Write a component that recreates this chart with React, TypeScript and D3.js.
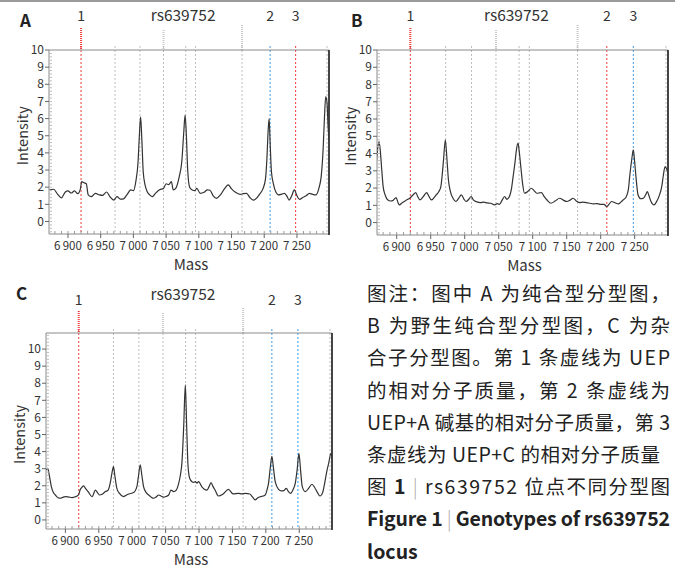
import React from "react"
import * as d3 from "d3"

// spectra, [mass, intensity]
const spectrumA: [number, number][] = [
  [6872, 1.84], [6878, 1.88], [6884, 1.6], [6890, 1.38], [6896, 1.72], [6900, 1.78], [6905, 1.66],
  [6910, 1.78], [6915, 1.62], [6919, 1.9], [6921, 2.32], [6925, 2.25], [6928, 2.2], [6931, 1.55],
  [6936, 1.45], [6942, 1.64], [6948, 1.55], [6953, 1.52], [6959, 1.72], [6964, 1.45], [6970, 1.25],
  [6975, 1.45], [6980, 1.3], [6985, 1.32], [6990, 1.55], [6996, 1.84], [7000, 1.8], [7004, 2.4],
  [7007, 3.4], [7009, 4.9], [7011, 6.1], [7013, 4.7], [7015, 2.9], [7018, 2.1], [7021, 1.75],
  [7025, 1.55], [7029, 1.45], [7034, 1.65], [7040, 1.85], [7046, 1.93], [7050, 2.2], [7054, 2.15],
  [7058, 2.32], [7061, 1.84], [7065, 1.95], [7070, 2.6], [7074, 3.5], [7077, 5.2], [7079, 6.2],
  [7081, 5.0], [7083, 3.0], [7086, 2.0], [7090, 1.84], [7094, 1.8], [7097, 1.93], [7102, 1.64],
  [7108, 1.7], [7113, 1.84], [7117, 1.82], [7122, 1.5], [7127, 1.35], [7133, 1.55], [7140, 1.95],
  [7145, 2.13], [7150, 1.9], [7156, 1.7], [7163, 1.58], [7168, 1.62], [7173, 1.64], [7178, 1.4],
  [7183, 1.25], [7188, 1.35], [7193, 1.6], [7198, 1.9], [7202, 2.5], [7204, 3.6], [7206, 5.3],
  [7207.5, 6.0], [7209, 4.6], [7211, 2.9], [7214, 2.2], [7218, 1.7], [7222, 1.55], [7227, 1.6],
  [7231, 1.64], [7235, 1.45], [7238, 1.25], [7242, 1.5], [7246, 1.84], [7250, 1.5], [7254, 1.29],
  [7259, 1.4], [7264, 1.5], [7269, 1.64], [7274, 1.58], [7279, 1.55], [7284, 2.0], [7287, 2.6],
  [7290, 4.2], [7292, 6.0], [7294, 7.28], [7296, 6.9], [7297.5, 5.6], [7299, 4.75],
]

const spectrumB: [number, number][] = [
  [6870, 3.44], [6872, 4.3], [6874, 4.69], [6876, 4.1], [6878, 3.05], [6880, 2.1], [6883, 1.6],
  [6887, 1.31], [6891, 1.25], [6895, 1.3], [6899, 1.45], [6902, 1.15], [6904, 1.02], [6908, 1.15],
  [6911, 1.22], [6915, 1.32], [6919, 1.41], [6924, 1.6], [6928, 1.74], [6931, 1.5], [6934, 1.31],
  [6939, 1.5], [6944, 1.74], [6947, 1.55], [6951, 1.31], [6955, 1.45], [6958, 1.6], [6962, 1.8],
  [6965, 2.1], [6967, 2.8], [6969, 3.7], [6971.5, 4.8], [6974, 3.6], [6976, 2.5], [6979, 1.8],
  [6983, 1.4], [6987, 1.22], [6991, 1.4], [6995, 1.6], [6999, 1.35], [7002, 1.22], [7006, 1.35],
  [7009.5, 1.51], [7013, 1.3], [7018, 1.2], [7023, 1.16], [7028, 1.18], [7033, 1.14], [7038, 1.12],
  [7044, 1.02], [7048, 1.1], [7051, 1.05], [7055, 1.3], [7058.7, 1.51], [7062, 1.35], [7065, 1.45],
  [7068.5, 1.89], [7071, 2.6], [7074, 3.5], [7076, 4.2], [7078.4, 4.6], [7080.5, 4.0], [7083, 3.05],
  [7085, 2.3], [7088, 1.7], [7091, 1.75], [7094, 1.85], [7098, 1.99], [7102, 1.85], [7106, 1.7],
  [7110, 1.72], [7113, 1.74], [7117, 1.5], [7121, 1.31], [7127, 1.12], [7133, 1.25], [7139.8, 1.41],
  [7145, 1.3], [7150, 1.22], [7155, 1.3], [7159.5, 1.41], [7164, 1.25], [7169, 1.16], [7174, 1.18],
  [7179, 1.16], [7184, 1.12], [7189, 1.08], [7194, 1.1], [7199, 1.06], [7205, 1.05], [7209, 0.93],
  [7212, 1.05], [7216, 1.22], [7221, 1.15], [7226, 1.08], [7230, 1.2], [7233, 1.31], [7237, 1.45],
  [7240.6, 1.89], [7243, 2.8], [7245.5, 3.6], [7248, 4.21], [7250, 3.5], [7252, 2.6], [7255, 1.6],
  [7259, 1.38], [7262.8, 1.41], [7266, 1.6], [7268.7, 1.8], [7271, 1.55], [7274, 1.22], [7278.5, 1.02],
  [7282, 1.2], [7286, 1.55], [7289.8, 2.08], [7292, 2.7], [7294.7, 3.24], [7297, 3.1], [7299, 2.86],
]

const spectrumC: [number, number][] = [
  [6871, 2.92], [6873.5, 3.02], [6876, 2.6], [6879, 1.95], [6882, 1.6], [6885, 1.46], [6889, 1.3],
  [6892.5, 1.27], [6896, 1.32], [6900, 1.36], [6905, 1.34], [6910, 1.31], [6914, 1.34], [6917.5, 1.4],
  [6920, 1.5], [6922, 1.75], [6925, 1.92], [6927.4, 1.99], [6930, 1.85], [6934, 1.66], [6940, 1.36],
  [6945, 1.75], [6948, 1.6], [6951, 1.46], [6955, 1.5], [6960, 1.66], [6964, 1.75], [6967, 2.14],
  [6969.5, 2.7], [6972, 3.12], [6974, 2.6], [6977, 1.85], [6981, 1.55], [6987, 1.36], [6991, 1.45],
  [6995, 1.52], [7002, 1.6], [7007, 1.95], [7009.5, 2.6], [7012, 3.22], [7014.5, 2.6], [7017, 1.95],
  [7021, 1.6], [7024.7, 1.46], [7028, 1.35], [7032, 1.27], [7036, 1.35], [7039.6, 1.46], [7043, 1.4],
  [7047, 1.33], [7051, 1.38], [7054.6, 1.46], [7058, 1.75], [7062, 1.66], [7066, 1.75], [7069, 2.05],
  [7072, 2.6], [7074.5, 3.4], [7077, 5.4], [7079.5, 7.9], [7081.5, 5.5], [7083.5, 3.2], [7086, 2.44],
  [7089.5, 2.24], [7092, 2.2], [7094.5, 2.24], [7097, 2.15], [7099.4, 2.24], [7104, 1.95], [7108, 1.8],
  [7112, 1.75], [7115, 1.95], [7118, 2.18], [7121, 1.95], [7124, 1.75], [7129, 1.4], [7136, 1.52],
  [7144, 1.79], [7151, 1.52], [7159, 1.56], [7164, 1.53], [7169, 1.56], [7176, 1.52], [7180, 1.35],
  [7184, 1.17], [7188, 1.3], [7191.5, 1.36], [7196, 1.4], [7199, 1.46], [7202, 1.8], [7204, 2.14],
  [7206.5, 3.0], [7209, 3.72], [7211.5, 3.0], [7214, 2.24], [7219, 1.79], [7223, 1.7], [7227, 1.72],
  [7230.6, 1.85], [7234, 1.65], [7237, 1.56], [7241, 1.8], [7244, 2.14], [7247, 3.0], [7249.5, 3.9],
  [7252, 2.9], [7254.5, 1.95], [7259, 1.66], [7264, 1.85], [7269, 2.09], [7273, 1.9], [7276.5, 1.66],
  [7281, 1.4], [7285, 1.6], [7288, 2.14], [7291, 2.8], [7294, 3.31], [7297.4, 3.9], [7299, 3.6],
]

// dashed reference masses; the numbered ones are UEP, UEP+A / UEP+C
const refMasses = [6920, 6972, 7010, 7046, 7080, 7095, 7166, 7209, 7248, 7296]
const numbered: Record<number, string> = { 6920: "1", 7209: "2", 7248: "3" }
const markerMasses = [7046, 7166]
const colorsA: Record<number, string> = { 6920: "red", 7209: "blue", 7248: "red" }
const colorsB: Record<number, string> = { 6920: "red", 7209: "red", 7248: "blue" }
const colorsC: Record<number, string> = { 6920: "red", 7209: "blue", 7248: "blue" }

const massTicks = [6900, 6950, 7000, 7050, 7100, 7150, 7200, 7250]
const intensityTicks = [0, 1, 2, 3, 4, 5, 6, 7, 8, 9, 10]
const massDomain = [6871, 7299]
const assayName = "rs639752"

const captionLines = [
  "图注：图中 A 为纯合型分型图，",
  "B 为野生纯合型分型图，C 为杂",
  "合子分型图。第 1 条虚线为 UEP",
  "的相对分子质量，第 2 条虚线为",
  "UEP+A 碱基的相对分子质量，第 3",
  "条虚线为 UEP+C 的相对分子质量",
]

const RED = "#ee3b3b"
const BLUE = "#3d9be9"
const FONT = "'Noto Sans CJK SC', 'Noto Sans', sans-serif"

const panels = [
  { id: "A", data: spectrumA, colors: colorsA, left: 49, right: 329, top: 50, bottom: 234, yMin: -0.73, yMax: 10, letterX: 20, letterY: 27, labelY: 21, rsY: 21 },
  { id: "B", data: spectrumB, colors: colorsB, left: 377, right: 668, top: 50, bottom: 235, yMin: -0.72, yMax: 10, letterX: 351, letterY: 27, labelY: 21, rsY: 21 },
  { id: "C", data: spectrumC, colors: colorsC, left: 46, right: 332, top: 333, bottom: 529, yMin: -0.53, yMax: 10.94, letterX: 16, letterY: 300, labelY: 305, rsY: 300 },
]

function fmtMass(d: number) {
  return Math.floor(d / 1000) + "\u2009" + String(d % 1000).padStart(3, "0")
}

function Panel({ p }: { p: (typeof panels)[number] }) {
  const x = d3.scaleLinear().domain(massDomain).range([p.left, p.right])
  const y = d3.scaleLinear().domain([p.yMin, p.yMax]).range([p.bottom, p.top])
  const line = d3
    .line<[number, number]>()
    .x(d => x(d[0]))
    .y(d => y(d[1]))
    .curve(d3.curveMonotoneX)
  const minorX = d3.range(6880, 7300, 10)
  const minorY = d3.range(Math.ceil(p.yMin * 5) / 5, p.yMax, 0.2)
  const colorOf = (m: number) => (p.colors[m] === "red" ? RED : p.colors[m] === "blue" ? BLUE : "#bdbdbd")
  const clipId = "clip" + p.id

  return (
    <g fontFamily={FONT}>
      <defs>
        <clipPath id={clipId}>
          <rect x={p.left} y={p.top} width={p.right - p.left} height={p.bottom - p.top} />
        </clipPath>
      </defs>
      <text x={p.letterX} y={p.letterY} fontSize={17} fontWeight="bold" fill="#222">{p.id}</text>
      <text x={x(7076)} y={p.rsY} fontSize={15.5} textAnchor="middle" fill="#333">{assayName}</text>
      {refMasses.filter(m => numbered[m]).map(m => (
        <text key={m} x={x(m)} y={p.labelY} fontSize={14} textAnchor="middle" fill="#333">{numbered[m]}</text>
      ))}

      {/* dashed reference lines */}
      {refMasses.map(m => (
        <line key={m} x1={x(m)} x2={x(m)} y1={p.top - 4} y2={p.bottom} stroke={colorOf(m)}
          strokeWidth={1} strokeDasharray="2,2" />
      ))}
      {/* markers above the plot */}
      <line x1={x(refMasses[0])} x2={x(refMasses[0])} y1={p.top - 22} y2={p.top} stroke={RED} strokeWidth={2} strokeDasharray="1,1" />
      {markerMasses.map((m, i) => (
        <line key={m} x1={x(m)} x2={x(m)} y1={p.top - (i === 0 ? 20 : 25)} y2={p.top} stroke="#c8c8c8" strokeWidth={2} strokeDasharray="1,1" />
      ))}

      {/* frame */}
      <line x1={p.left} x2={p.right} y1={p.top} y2={p.top} stroke="#8a8a8a" />
      <line x1={p.left} x2={p.left} y1={p.top} y2={p.bottom} stroke="#8a8a8a" />
      <line x1={p.left} x2={p.right} y1={p.bottom} y2={p.bottom} stroke="#8a8a8a" />
      <line x1={p.right} x2={p.right} y1={p.top} y2={p.bottom + 1} stroke="#444" strokeWidth={2} />

      {/* spectrum */}
      <path d={line(p.data) || ""} fill="none" stroke="#333" strokeWidth={1.2} clipPath={`url(#${clipId})`} />

      {/* x axis */}
      {minorX.map(m => (
        <line key={m} x1={x(m)} x2={x(m)} y1={p.bottom - 3} y2={p.bottom} stroke="#9a9a9a" />
      ))}
      {massTicks.map(m => (
        <g key={m}>
          <line x1={x(m)} x2={x(m)} y1={p.bottom} y2={p.bottom + 4} stroke="#666" />
          <text x={x(m)} y={p.bottom + 16} fontSize={11.5} textAnchor="middle" fill="#333">{fmtMass(m)}</text>
        </g>
      ))}
      <text x={(p.left + p.right) / 2 + 2} y={p.bottom + 36} fontSize={15} textAnchor="middle" fill="#333">Mass</text>

      {/* y axis */}
      {minorY.map(v => (
        <line key={v} x1={p.left} x2={p.left + 3} y1={y(v)} y2={y(v)} stroke="#bdbdbd" />
      ))}
      {intensityTicks.map(v => (
        <g key={v}>
          <line x1={p.left - 4} x2={p.left} y1={y(v)} y2={y(v)} stroke="#666" />
          <text x={p.left - 5} y={y(v) + 4.2} fontSize={12} textAnchor="end" fill="#333">{v}</text>
        </g>
      ))}
      <text transform={`translate(${p.left - 21},${(y(10) + y(0)) / 2}) rotate(-90)`} fontSize={14.5}
        textAnchor="middle" fill="#333">Intensity</text>
    </g>
  )
}

export default function App() {
  const capX = 367
  const capW = 303
  const lineY = (i: number) => 301 + 32.2 * i
  return (
    <svg width={675} height={571} style={{ position: "absolute", left: 0, top: 0, background: "#fff" }}>
      <rect width={675} height={571} fill="#fff" />
      <line x1={0} x2={675} y1={1} y2={1} stroke="#9a9a9a" strokeWidth={2} />
      {panels.map(p => <Panel key={p.id} p={p} />)}

      <g fontFamily={FONT} fill="#222">
        {captionLines.map((t, i) => (
          <text key={i} x={capX} y={lineY(i)} fontSize={19.5} textLength={i === 5 ? capW - 10 : capW} lengthAdjust="spacing">{t}</text>
        ))}
        <text x={capX} y={lineY(6)} fontSize={19.5} textLength={capW} lengthAdjust="spacing">
          <tspan>图 </tspan>
          <tspan fontWeight="bold">1</tspan>
          <tspan fill="#aaa" fontWeight="300"> | </tspan>
          <tspan>rs639752 位点不同分型图</tspan>
        </text>
        <text x={capX} y={lineY(7)} fontSize={19.5} fontWeight="bold" textLength={capW} lengthAdjust="spacing">
          <tspan>Figure 1</tspan>
          <tspan fill="#aaa" fontWeight="300"> | </tspan>
          <tspan>Genotypes of rs639752</tspan>
        </text>
        <text x={capX} y={lineY(8)} fontSize={19.5} fontWeight="bold">locus</text>
      </g>
    </svg>
  )
}
